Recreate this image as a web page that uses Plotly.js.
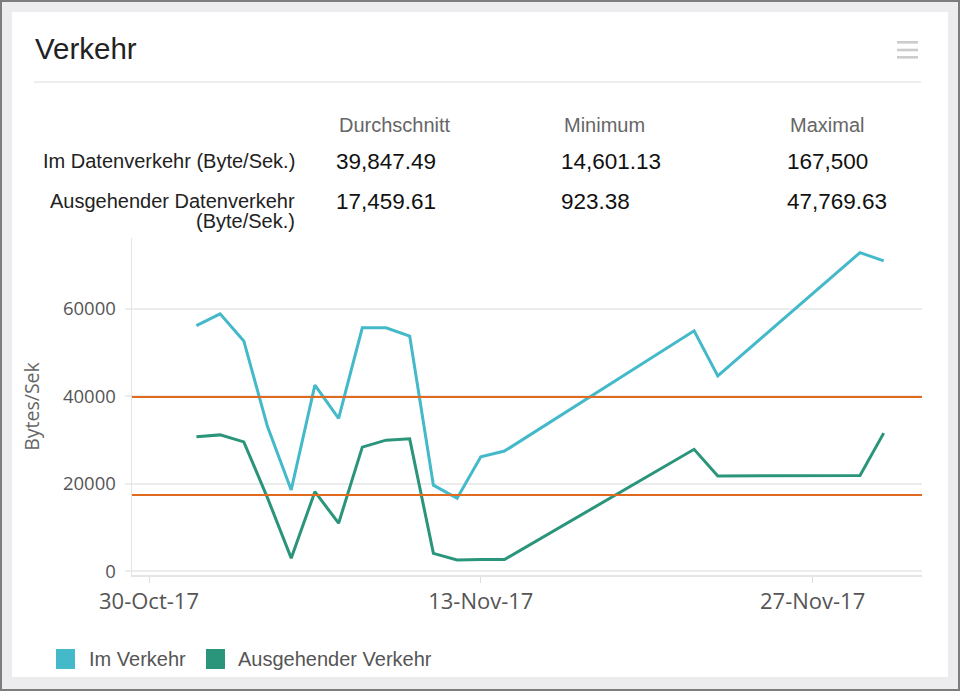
<!DOCTYPE html>
<html>
<head>
<meta charset="utf-8">
<script src="https://cdn.plot.ly/plotly-3.0.1.min.js"></script>
<style>
  html, body { margin: 0; padding: 0; }
  body { width: 960px; height: 691px; background: #ececee; position: relative; overflow: hidden; }
  #frame { position: absolute; left: 0; top: 0; width: 960px; height: 691px; box-sizing: border-box; border: 2px solid #7d7d7d; pointer-events: none; z-index: 5; }
  #chart { position: absolute; left: 12px; top: 12px; width: 936px; height: 665px; background: #fff; }
</style>
</head>
<body>
<div id="chart"></div>
<div id="frame"></div>
<script>
// ---- data ----
var chartTitle = 'Verkehr';
var dates = ['2017-11-01','2017-11-02','2017-11-03','2017-11-04','2017-11-05','2017-11-06','2017-11-07','2017-11-08','2017-11-09','2017-11-10','2017-11-11','2017-11-12','2017-11-13','2017-11-14','2017-11-22','2017-11-23','2017-11-29','2017-11-30'];
var inTraffic  = [56200, 58900, 52700, 33100, 18600, 42600, 35000, 55700, 55700, 53800, 19700, 16700, 26200, 27500, 55000, 44700, 72900, 71000];
var outTraffic = [30800, 31200, 29600, 16800, 3000, 18200, 11000, 28400, 30000, 30300, 4100, 2600, 2700, 2700, 27900, 21800, 21900, 31600];
var seriesNames = ['Im Verkehr', 'Ausgehender Verkehr'];
var seriesColors = ['#43b9c9', '#2a957a'];
var statHeaders = ['Durchschnitt', 'Minimum', 'Maximal'];
var rowLabels = ['Im Datenverkehr (Byte/Sek.)', 'Ausgehender Datenverkehr<br>(Byte/Sek.)'];
var inStats  = ['39,847.49', '14,601.13', '167,500'];
var outStats = ['17,459.61', '923.38', '47,769.63'];
var avgValues = [39847.49, 17459.61];
var tickDates = ['2017-10-30', '2017-11-13', '2017-11-27'];
var tickLabels = ['30-Oct-17', '13-Nov-17', '27-Nov-17'];
var yTitle = 'Bytes/Sek';

// ---- layout helpers (page pixel -> paper) ----
var L = 120, T = 226, W = 790, H = 337;
function fx(xp) { return (xp - 12 - L) / W; }
function fy(yp) { return (T + H + 12 - yp) / H; }

var textFont = 'Liberation Sans, Arial, Helvetica, sans-serif';
var annotations = [];
var shapes = [];

// title
annotations.push({text: chartTitle, xref: 'paper', yref: 'paper', x: fx(33), y: fy(48), xanchor: 'left', yanchor: 'middle', showarrow: false, font: {family: textFont, size: 29.5, color: '#222'}});

// hamburger icon
[42.3, 50, 57.3].forEach(function (yc) {
  shapes.push({type: 'rect', xref: 'paper', yref: 'paper', x0: fx(897), x1: fx(918), y0: fy(yc - 1.3), y1: fy(yc + 1.3), fillcolor: '#cccccc', line: {width: 0}});
});
// separator
shapes.push({type: 'line', xref: 'paper', yref: 'paper', x0: fx(34), x1: fx(921), y0: fy(82), y1: fy(82), line: {color: '#e8e8e8', width: 1.5}});

// stats table
var colX = [337, 562, 788];
statHeaders.forEach(function (h, i) {
  annotations.push({text: h, xref: 'paper', yref: 'paper', x: fx(colX[i]), y: fy(125), xanchor: 'left', yanchor: 'middle', showarrow: false, font: {family: textFont, size: 20, color: '#666'}});
});
var rowY = [161, 201];
var rowStats = [inStats, outStats];
rowLabels.forEach(function (lab, r) {
  var parts = lab.split('<br>');
  parts.forEach(function (p, k) {
    annotations.push({text: p, xref: 'paper', yref: 'paper', x: fx(297), y: fy(rowY[r] + k * 20), xanchor: 'right', yanchor: 'middle', showarrow: false, font: {family: textFont, size: 20, color: '#222'}});
  });
  rowStats[r].forEach(function (v, i) {
    annotations.push({text: v, xref: 'paper', yref: 'paper', x: fx(colX[i] - 3), y: fy(rowY[r]), xanchor: 'left', yanchor: 'middle', showarrow: false, font: {family: textFont, size: 22.5, color: '#111'}});
  });
});

// average lines
avgValues.forEach(function (v) {
  shapes.push({type: 'line', xref: 'paper', yref: 'y', x0: 0, x1: 1, y0: v, y1: v, layer: 'above', line: {color: '#e06a1f', width: 2}});
});

// legend (manual squares + labels)
var legX = [56, 206];
var legTextX = [87, 236];
seriesNames.forEach(function (n, i) {
  shapes.push({type: 'rect', xref: 'paper', yref: 'paper', x0: fx(legX[i]), x1: fx(legX[i] + 19), y0: fy(669), y1: fy(649), fillcolor: seriesColors[i], line: {width: 0}});
  annotations.push({text: n, xref: 'paper', yref: 'paper', x: fx(legTextX[i]), y: fy(659), xanchor: 'left', yanchor: 'middle', showarrow: false, font: {family: textFont, size: 20, color: '#555'}});
});

var traces = [
  {type: 'scatter', mode: 'lines', name: seriesNames[0], x: dates, y: inTraffic, line: {color: seriesColors[0], width: 3}},
  {type: 'scatter', mode: 'lines', name: seriesNames[1], x: dates, y: outTraffic, line: {color: seriesColors[1], width: 3}}
];

var layout = {
  width: 936, height: 665,
  margin: {l: L, r: 936 - L - W, t: T, b: 665 - T - H, pad: 0},
  paper_bgcolor: '#ffffff', plot_bgcolor: '#ffffff',
  showlegend: false,
  font: {family: 'Open Sans, sans-serif', color: '#555'},
  xaxis: {
    type: 'date',
    range: ['2017-10-29 06:47', '2017-12-01 14:47'],
    tickmode: 'array', tickvals: tickDates, ticktext: tickLabels,
    showgrid: false, zeroline: false,
    showline: true, linecolor: '#e4e4e4', linewidth: 1.5,
    ticks: 'outside', ticklen: 6, tickcolor: '#dddddd', tickwidth: 1,
    tickfont: {family: 'Open Sans, sans-serif', size: 22, color: '#555'},
    fixedrange: true
  },
  yaxis: {
    range: [-850, 76240],
    tickmode: 'array', tickvals: [0, 20000, 40000, 60000], ticktext: ['0', '20000', '40000', '60000'],
    showgrid: true, gridcolor: '#ececec', gridwidth: 2,
    zeroline: false,
    showline: true, linecolor: '#e4e4e4', linewidth: 1.5,
    ticks: 'outside', ticklen: 6, tickcolor: '#ececec', tickwidth: 2,
    ticklabelstandoff: 5,
    tickfont: {family: 'Open Sans, sans-serif', size: 18.5, color: '#555'},
    title: {text: yTitle, standoff: 18, font: {family: 'Open Sans, sans-serif', size: 19.5, color: '#666'}},
    fixedrange: true
  },
  annotations: annotations,
  shapes: shapes
};

Plotly.newPlot('chart', traces, layout, {displayModeBar: false, staticPlot: true});
</script>
</body>
</html>
